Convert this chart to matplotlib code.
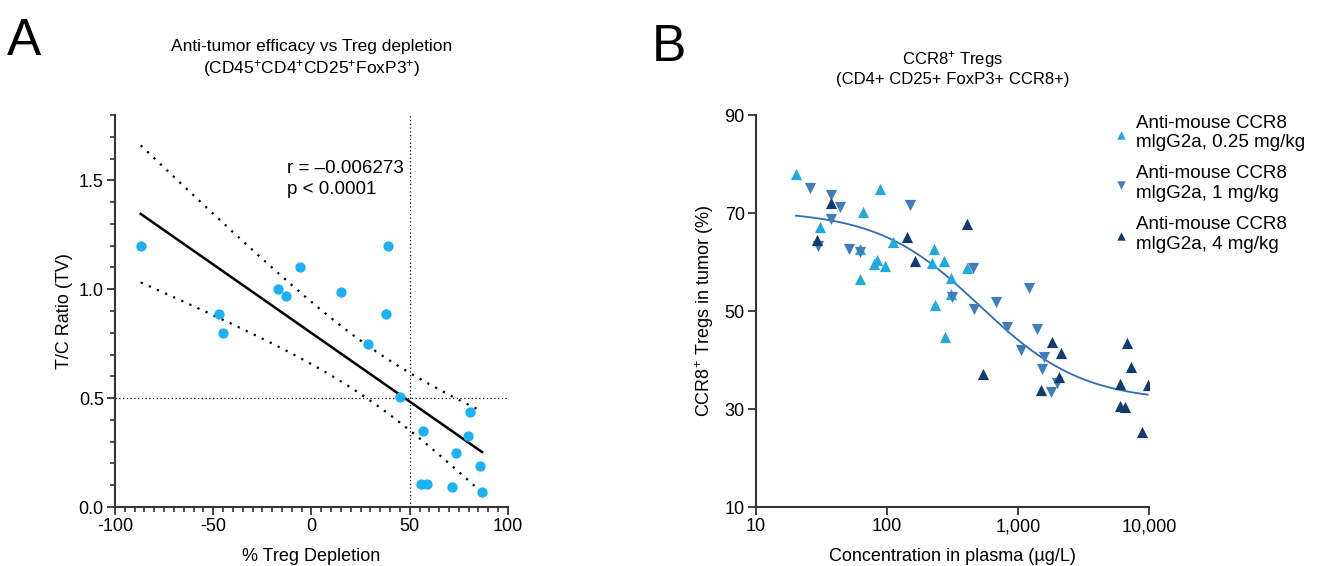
import matplotlib
matplotlib.use("Agg")
import matplotlib.pyplot as plt
import numpy as np

plt.rcParams['font.family'] = ['Liberation Sans', 'DejaVu Sans']
plt.rcParams['mathtext.fontset'] = 'custom'
plt.rcParams['mathtext.rm'] = 'Liberation Sans'
plt.rcParams['mathtext.it'] = 'Liberation Sans:italic'
plt.rcParams['mathtext.default'] = 'regular'
plt.rcParams['axes.unicode_minus'] = False

# panel A: % Treg depletion vs T/C ratio
depletion = [-86.9, -47.1, -45.0, -17.0, -13.0, -6.0, 14.8, 28.8, 37.7, 38.9,
             44.9, 56.6, 55.7, 58.9, 71.7, 73.7, 79.6, 80.7, 85.6, 86.8]
tc_ratio = [1.20, 0.887, 0.797, 1.00, 0.968, 1.10, 0.988, 0.747, 0.887, 1.20,
            0.507, 0.348, 0.107, 0.107, 0.093, 0.249, 0.328, 0.438, 0.188, 0.067]
T_CRIT = 2.101  # t(0.975, df=18)

# panel B: concentration in plasma vs CCR8+ Tregs
conc_025 = [20.2, 30.6, 62.2, 62.2, 65.6, 83.4, 79.6, 89.0, 97.1, 111.7,
            221.8, 229.7, 233.9, 274, 277, 310, 308, 410]
treg_025 = [78.0, 67.1, 62.7, 56.6, 70.2, 60.5, 59.5, 74.9, 59.1, 64.1,
            59.8, 62.6, 51.3, 60.3, 44.6, 56.8, 53.4, 58.7]
conc_1 = [25.7, 37.4, 37.2, 43.6, 29.9, 51.3, 62.5, 149, 456, 316,
          459, 679, 830, 1055, 1214, 1397, 1570, 1517, 1795, 1972]
treg_1 = [75.1, 73.6, 68.8, 71.3, 63.3, 62.7, 62.0, 71.7, 58.7, 52.9,
          50.4, 51.9, 46.8, 42.0, 54.7, 46.4, 40.7, 38.1, 33.4, 35.4]
conc_4 = [37.2, 29.3, 143, 164, 408, 537, 1807, 1500, 2143, 2069,
          6039, 5972, 6520, 6745, 7295, 8851, 9770]
treg_4 = [72.1, 64.4, 65.2, 60.2, 67.7, 37.1, 43.7, 33.8, 41.5, 36.6,
          35.1, 30.6, 30.4, 43.4, 38.6, 25.4, 34.9]
# 4PL fit parameters
fit_top, fit_bottom, fit_ec50, fit_hill = 70.5, 31.5, 514, 1.11

labels = ['Anti-mouse CCR8\nmlgG2a, 0.25 mg/kg',
          'Anti-mouse CCR8\nmlgG2a, 1 mg/kg',
          'Anti-mouse CCR8\nmlgG2a, 4 mg/kg']
colors = ['#1eaadc', '#3f7dbc', '#0e3c6e']

fig = plt.figure(figsize=(13.2, 5.66), dpi=100)
ax1 = fig.add_axes([0.0871, 0.1042, 0.2977, 0.6926])
ax2 = fig.add_axes([0.5727, 0.1042, 0.2977, 0.6926])

for ax in (ax1, ax2):
    for s in ('top', 'right'):
        ax.spines[s].set_visible(False)
    for s in ('left', 'bottom'):
        ax.spines[s].set_linewidth(1.5)
        ax.spines[s].set_color('#333333')
    ax.tick_params(which='major', length=6, width=1.3, labelsize=13, color='#333333', pad=2)
    ax.tick_params(which='minor', length=3.5, width=1.2, color='#333333')

# --- A ---
x = np.array(depletion)
y = np.array(tc_ratio)
slope, intercept = np.polyfit(x, y, 1)
xs = np.linspace(x.min(), x.max(), 200)
ys = slope * xs + intercept
resid = y - (slope * x + intercept)
n = len(x)
s_err = np.sqrt(np.sum(resid ** 2) / (n - 2))
se = s_err * np.sqrt(1 / n + (xs - x.mean()) ** 2 / np.sum((x - x.mean()) ** 2))
ax1.axvline(50, color='black', lw=0.9, ls=(0, (1, 2)))
ax1.axhline(0.5, color='black', lw=0.9, ls=(0, (1, 2)))
ax1.plot(xs, ys + T_CRIT * se, color='black', lw=1.6, ls=(0, (1, 3)))
ax1.plot(xs, ys - T_CRIT * se, color='black', lw=1.6, ls=(0, (1, 3)))
ax1.plot(xs, ys, color='black', lw=1.8)
ax1.scatter(x, y, s=55, color='#1ab2f2', zorder=3, linewidths=0)
ax1.set_xlim(-100, 100)
ax1.set_ylim(0, 1.8)
ax1.set_xticks([-100, -50, 0, 50, 100])
ax1.set_xticks(np.arange(-100, 101, 5), minor=True)
ax1.set_yticks([0, 0.5, 1.0, 1.5])
ax1.set_yticklabels(['0.0', '0.5', '1.0', '1.5'])
ax1.set_yticks(np.arange(0, 1.81, 0.1), minor=True)
ax1.set_xlabel('% Treg Depletion', fontsize=13, labelpad=9)
ax1.set_ylabel('T/C Ratio (TV)', fontsize=13, labelpad=4)
ax1.set_title('Anti-tumor efficacy vs Treg depletion\n(CD45$^{+}$CD4$^{+}$CD25$^{+}$FoxP3$^{+}$)',
              fontsize=12.5, pad=30, linespacing=1.25)
ax1.text(-12.5, 1.595, 'r = –0.006273\np < 0.0001', fontsize=13.5, va='top', ha='left',
         linespacing=1.3)

# --- B ---
ax2.set_xscale('log')
ax2.scatter(conc_025, treg_025, marker='^', s=65, color=colors[0], linewidths=0, label=labels[0], zorder=3)
ax2.scatter(conc_1, treg_1, marker='v', s=65, color=colors[1], linewidths=0, label=labels[1], zorder=3)
ax2.scatter(conc_4, treg_4, marker='^', s=65, color=colors[2], linewidths=0, label=labels[2], zorder=3)
cx = np.logspace(np.log10(20.2), np.log10(9770), 300)
cy = fit_bottom + (fit_top - fit_bottom) / (1 + (cx / fit_ec50) ** fit_hill)
ax2.plot(cx, cy, color='#2d6db8', lw=1.3, zorder=2)
ax2.set_xlim(10, 10000)
ax2.set_ylim(10, 90)
ax2.set_xticks([10, 100, 1000, 10000])
ax2.set_xticklabels(['10', '100', '1,000', '10,000'])
ax2.xaxis.set_minor_locator(matplotlib.ticker.NullLocator())
ax2.set_yticks([10, 30, 50, 70, 90])
ax2.set_xlabel('Concentration in plasma (µg/L)', fontsize=13, labelpad=9)
ax2.set_ylabel('CCR8$^{+}$ Tregs in tumor (%)', fontsize=13, labelpad=6)
ax2.set_title('CCR8$^{+}$ Tregs\n(CD4+ CD25+ FoxP3+ CCR8+)', fontsize=12, pad=22, linespacing=1.2)
ax2.legend(loc='upper left', bbox_to_anchor=(0.88, 1.02), frameon=False, fontsize=13.5,
           handletextpad=0.2, labelspacing=0.75, markerscale=0.75, borderaxespad=0,
           handlelength=1.2)

fig.text(0.005, 0.97, 'A', fontsize=37, va='top', ha='left')
fig.text(0.494, 0.96, 'B', fontsize=37, va='top', ha='left')

fig.savefig('out.png', dpi=100)
